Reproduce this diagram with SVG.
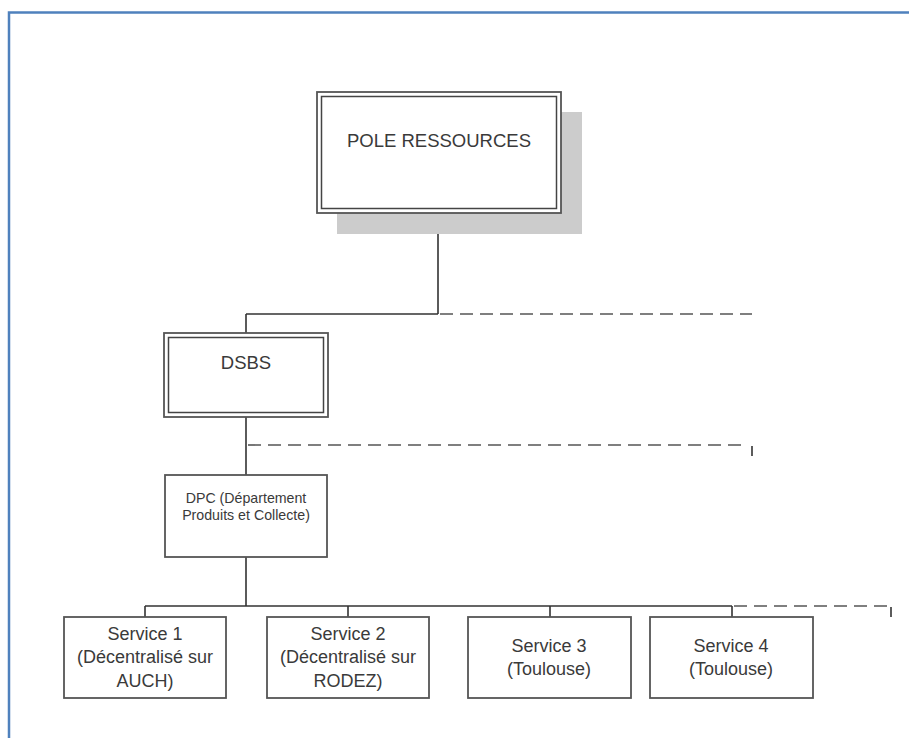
<svg xmlns="http://www.w3.org/2000/svg" width="909" height="738" viewBox="0 0 909 738">
  <style>
    .frame { fill: none; stroke: #4f81bd; stroke-width: 2.5; }
    .box { fill: #ffffff; stroke: #555555; stroke-width: 1.8; }
    .inner { fill: none; stroke: #444444; stroke-width: 1.5; }
    .shadow { fill: #cccccc; }
    .lbl { font-family: "Liberation Sans", Arial, sans-serif; fill: #3a3a3a; text-anchor: middle; }
    .solid { fill: none; stroke: #333333; stroke-width: 1.6; }
    .dash { fill: none; stroke: #555555; stroke-width: 1.6; stroke-dasharray: 13 7; }
  </style>

  <!-- page frame -->
  <path class="frame" d="M9 738 V12.5 H909"/>

  <!-- connectors -->
  <g id="connectors">
    <path class="solid" d="M438 213 V314 M246 314 H438 M246 314 V333"/>
    <path class="dash" d="M440 314 H752"/>
    <path class="solid" d="M246 417 V475"/>
    <path class="dash" d="M248 445 H745"/>
    <path class="solid" d="M752 446 V456"/>
    <path class="solid" d="M246 557 V606 M145 606 H732 M145 606 V617 M348 606 V617 M550 606 V617 M732 606 V617"/>
    <path class="dash" d="M734 606 H888"/>
    <path class="solid" d="M891 607 V617"/>
  </g>

  <!-- POLE RESSOURCES -->
  <g id="pole-ressources">
    <rect class="shadow" x="337" y="112" width="245" height="122"/>
    <rect class="box" x="317" y="92" width="244" height="121"/>
    <rect class="inner" x="321.5" y="96.5" width="235" height="112"/>
    <text class="lbl" x="439" y="147" font-size="18.5">POLE RESSOURCES</text>
  </g>

  <!-- DSBS -->
  <g id="dsbs">
    <rect class="box" x="164" y="333" width="164" height="84"/>
    <rect class="inner" x="168.5" y="337.5" width="155" height="75"/>
    <text class="lbl" x="246" y="369" font-size="18.5">DSBS</text>
  </g>

  <!-- DPC -->
  <g id="dpc">
    <rect class="box" x="165" y="475" width="162" height="82"/>
    <text class="lbl" x="246" y="503" font-size="14.2">DPC (Département</text>
    <text class="lbl" x="246" y="520" font-size="14.2">Produits et Collecte)</text>
  </g>

  <!-- Services -->
  <g id="service-1">
    <rect class="box" x="64" y="617" width="162" height="81"/>
    <text class="lbl" x="145" y="640" font-size="18">Service 1</text>
    <text class="lbl" x="145" y="663" font-size="18">(Décentralisé sur</text>
    <text class="lbl" x="145" y="687" font-size="18">AUCH)</text>
  </g>
  <g id="service-2">
    <rect class="box" x="267" y="617" width="162" height="81"/>
    <text class="lbl" x="348" y="640" font-size="18">Service 2</text>
    <text class="lbl" x="348" y="663" font-size="18">(Décentralisé sur</text>
    <text class="lbl" x="348" y="687" font-size="18">RODEZ)</text>
  </g>
  <g id="service-3">
    <rect class="box" x="468" y="617" width="163" height="81"/>
    <text class="lbl" x="549" y="652" font-size="18">Service 3</text>
    <text class="lbl" x="549" y="675" font-size="18">(Toulouse)</text>
  </g>
  <g id="service-4">
    <rect class="box" x="650" y="617" width="163" height="81"/>
    <text class="lbl" x="731" y="652" font-size="18">Service 4</text>
    <text class="lbl" x="731" y="675" font-size="18">(Toulouse)</text>
  </g>
</svg>
